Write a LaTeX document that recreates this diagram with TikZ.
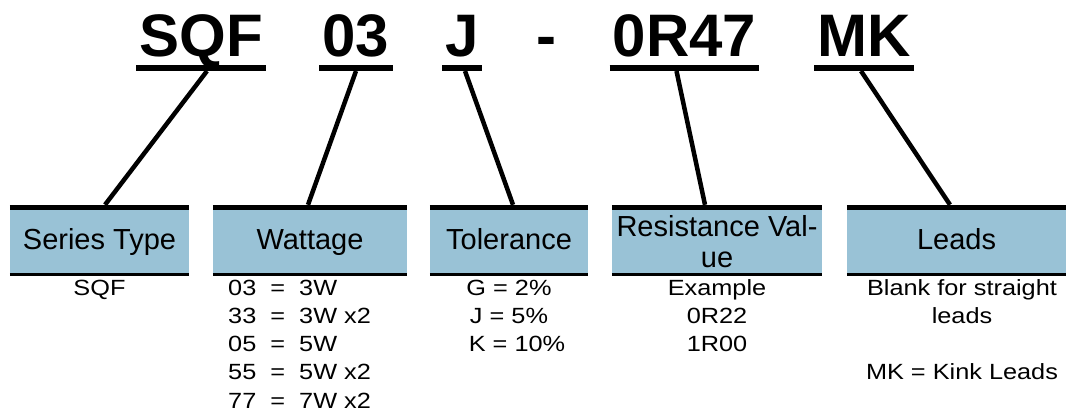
\documentclass[tikz,border=0pt]{standalone}
\usepackage{fontspec}
\setmainfont{Liberation Sans}
\newfontfamily\bodyfont[FakeStretch=1.15]{Liberation Sans}
\definecolor{headblue}{RGB}{153,194,214}

\begin{document}
\begin{tikzpicture}[
    x=1pt,
    y=-1pt,
    codetext/.style={font=\fontsize{60}{72}\selectfont\bfseries,
      inner xsep=3pt,inner ysep=0pt,anchor=base},
    underbar/.style={line width=6pt},
    leader/.style={line width=4.5pt},
    headbox/.style={fill=headblue,minimum height=63pt,inner sep=0pt,
      font=\fontsize{29}{31}\selectfont,align=center},
    oneline/.style={text height=21pt,text depth=5pt},
    topbar/.style={line width=5pt},
    bottombar/.style={line width=2.5pt},
    bodytext/.style={font=\bodyfont\fontsize{22}{28.3}\selectfont,
      inner sep=0pt,anchor=base,align=center}
  ]
    \useasboundingbox (0,0) rectangle (1068,415);

    % part number
    \node[codetext] (sqfcode) at (201,56) {SQF};
    \node[codetext] (wattcode) at (356,56) {03};
    \node[codetext] (tolcode) at (462,56) {J};
    \node[codetext] (hyphen) at (546,56) {-};
    \node[codetext] (valcode) at (684.5,56) {0R47};
    \node[codetext] (leadcode) at (864,56) {MK};
    \foreach \c in {sqfcode,wattcode,tolcode,valcode,leadcode}
      \draw[underbar] ([yshift=-12pt]\c.base west) -- ([yshift=-12pt]\c.base east);

    % field headers
    \node[headbox,oneline,minimum width=179pt] (series) at (99.5,241.5) {Series Type};
    \node[headbox,oneline,minimum width=194pt] (wattage) at (310,241.5) {Wattage};
    \node[headbox,oneline,minimum width=158pt] (tolerance) at (509,241.5) {Tolerance};
    \node[headbox,minimum width=210pt] (resval) at (717,241.5) {Resistance Val-\\ue};
    \node[headbox,oneline,minimum width=219pt] (leads) at (956.5,241.5) {Leads};
    \foreach \b in {series,wattage,tolerance,resval,leads} {
      \draw[topbar] ([yshift=2.5pt]\b.north west) -- ([yshift=2.5pt]\b.north east);
      \draw[bottombar] ([yshift=-1.25pt]\b.south west) -- ([yshift=-1.25pt]\b.south east);
    }

    \draw[leader] ([xshift=6pt,yshift=-15pt]sqfcode.base)
      -- ([xshift=5.5pt,yshift=5pt]series.north);
    \draw[leader] ([yshift=-15pt]wattcode.base)
      -- ([xshift=-2pt,yshift=5pt]wattage.north);
    \draw[leader] ([xshift=3pt,yshift=-15pt]tolcode.base)
      -- ([xshift=4pt,yshift=5pt]tolerance.north);
    \draw[leader] ([xshift=-8pt,yshift=-15pt]valcode.base)
      -- ([xshift=-12pt,yshift=5pt]resval.north);
    \draw[leader] ([xshift=-3pt,yshift=-15pt]leadcode.base)
      -- ([xshift=-6.5pt,yshift=5pt]leads.north);

    % options (base = last line)
    \node[bodytext] (seriesinfo) at (99.5,295) {SQF};
    \node[bodytext,anchor=base west,align=left] (wattinfo) at (228,408.2)
      {03~~=~~3W\\33~~=~~3W x2\\05~~=~~5W\\55~~=~~5W x2\\77~~=~~7W x2};
    \node[bodytext] (tolinfo) at (509,351.6)
      {G = 2\%\\J = 5\%\\\hspace*{16pt}K = 10\%};
    \node[bodytext] (valinfo) at (717,351.6) {Example\\0R22\\1R00};
    \node[bodytext] (leadinfo) at (962,379.9)
      {Blank for straight\\leads\\~\\MK = Kink Leads};
  \end{tikzpicture}
\end{document}
